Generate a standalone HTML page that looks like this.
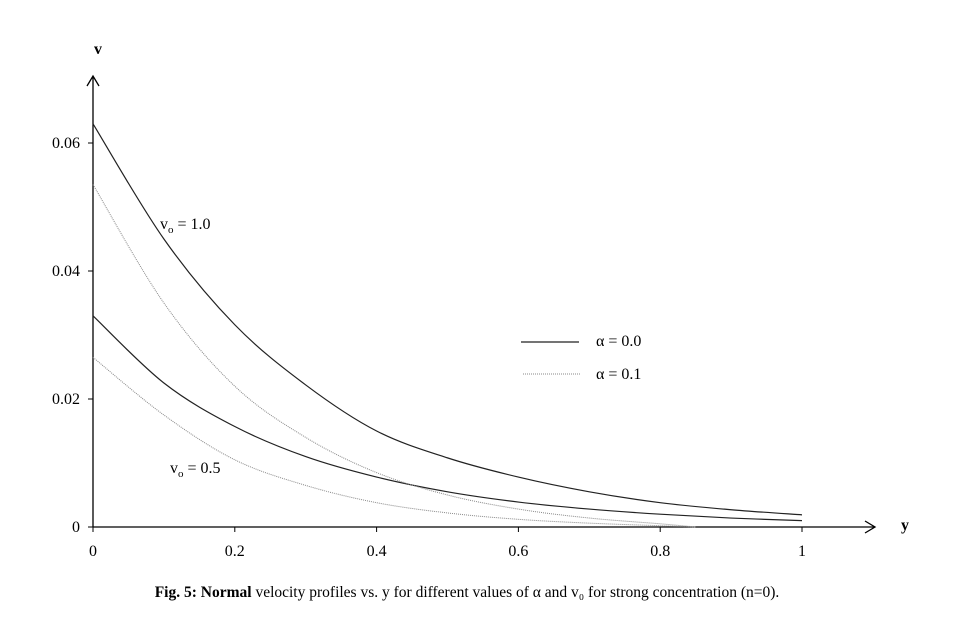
<!DOCTYPE html>
<html><head><meta charset="utf-8"><style>
body{margin:0;background:#fff;}
svg{display:block;font-family:"Liberation Serif",serif;}
</style></head><body>
<svg id="chart" width="979" height="641" viewBox="0 0 979 641" xmlns="http://www.w3.org/2000/svg">
<g id="axes"></g>
<g id="series"></g>
<text x="98" y="54" font-size="16" font-weight="bold" text-anchor="middle">v</text>
<text x="905" y="530" font-size="16" font-weight="bold" text-anchor="middle">y</text>
<text x="160" y="229" font-size="16">v<tspan font-size="11" dy="4">o</tspan><tspan dy="-4"> = 1.0</tspan></text>
<text x="170" y="473" font-size="16">v<tspan font-size="11" dy="4">o</tspan><tspan dy="-4"> = 0.5</tspan></text>
<g>
<line x1="521" y1="342" x2="579" y2="342" stroke="#222" stroke-width="1.2"/>
<text x="596" y="346" font-size="16">α = 0.0</text>
<line x1="523" y1="374" x2="581" y2="374" stroke="#888" stroke-width="1" stroke-dasharray="1,1"/>
<text x="596" y="379" font-size="16">α = 0.1</text>
</g>
<text x="467" y="597" font-size="15.5" text-anchor="middle"><tspan font-weight="bold">Fig. 5: Normal</tspan> velocity profiles vs. y for different values of α and v₀ for strong concentration  (n=0).</text>
</svg>
<script>
const xs = [0,0.1,0.2,0.3,0.4,0.5,0.6,0.7,0.8,0.9,1.0];
const solid10 = [0.063,0.045,0.0316,0.0222,0.0150,0.0108,0.0078,0.0055,0.0038,0.0027,0.0019];
const solid05 = [0.033,0.0225,0.0157,0.0110,0.0078,0.0055,0.0039,0.0028,0.002,0.0014,0.001];
const dotXs = [0,0.1,0.2,0.3,0.4,0.5,0.6,0.7,0.8,0.85];
const dot10 = [0.0535,0.035,0.022,0.014,0.0085,0.005,0.0028,0.0014,0.0005,0.0];
const dot05 = [0.0265,0.0175,0.0105,0.0065,0.0038,0.0022,0.0012,0.0006,0.0002,0.0];
const xTicks = [0,0.2,0.4,0.6,0.8,1];
const xTickLabels = ["0","0.2","0.4","0.6","0.8","1"];
const yTicks = [0,0.02,0.04,0.06];
const yTickLabels = ["0","0.02","0.04","0.06"];

const NS="http://www.w3.org/2000/svg";
const X=v=>93+v*709;
const Y=v=>527-v*6400;
const axes=document.getElementById('axes');
const ser=document.getElementById('series');
function mk(tag,attrs,parent){const e=document.createElementNS(NS,tag);for(const k in attrs)e.setAttribute(k,attrs[k]);parent.appendChild(e);return e;}

let a=mk('path',{d:'M93,527 L93,76 M87,86 L93,76 L99,86',fill:'none',stroke:'#000','stroke-width':1.3},axes);


a=mk('path',{d:'M93,527 L875,527 M865,521 L875,527 L865,533',fill:'none',stroke:'#000','stroke-width':1.3},axes);


xTicks.forEach((v,i)=>{
  const t=mk('line',{x1:X(v),x2:X(v),y1:527,y2:532,stroke:'#000'},axes);
  
  
  const l=mk('text',{x:X(v),y:556,'font-size':16,'text-anchor':'middle'},axes);
  l.textContent=xTickLabels[i];
  
  
});
yTicks.forEach((v,i)=>{
  const t=mk('line',{x1:88,x2:93,y1:Y(v),y2:Y(v),stroke:'#000'},axes);
  
  
  const l=mk('text',{x:80,y:Y(v)+5,'font-size':16,'text-anchor':'end'},axes);
  l.textContent=yTickLabels[i];
  
  
});
function curve(xa,ya){
  const p=xa.map((x,i)=>[X(x),Y(ya[i])]);
  let d='M'+p[0][0]+','+p[0][1];
  for(let i=0;i<p.length-1;i++){
    const p0=p[Math.max(0,i-1)],p1=p[i],p2=p[i+1],p3=p[Math.min(p.length-1,i+2)];
    const c1=[p1[0]+(p2[0]-p0[0])/6,p1[1]+(p2[1]-p0[1])/6];
    const c2=[p2[0]-(p3[0]-p1[0])/6,p2[1]-(p3[1]-p1[1])/6];
    d+=` C${c1[0]},${c1[1]} ${c2[0]},${c2[1]} ${p2[0]},${p2[1]}`;
  }
  return d;
}
[[xs,solid10,'series-alpha0-v1',0],[xs,solid05,'series-alpha0-v05',0],[dotXs,dot10,'series-alpha01-v1',1],[dotXs,dot05,'series-alpha01-v05',1]].forEach(s=>{
  const e=mk('path',{d:curve(s[0],s[1]),fill:'none',stroke:s[3]?'#888':'#222','stroke-width':s[3]?1:1.2},ser);
  if(s[3])e.setAttribute('stroke-dasharray','1,1');
  
  
});
</script>
</body></html>
